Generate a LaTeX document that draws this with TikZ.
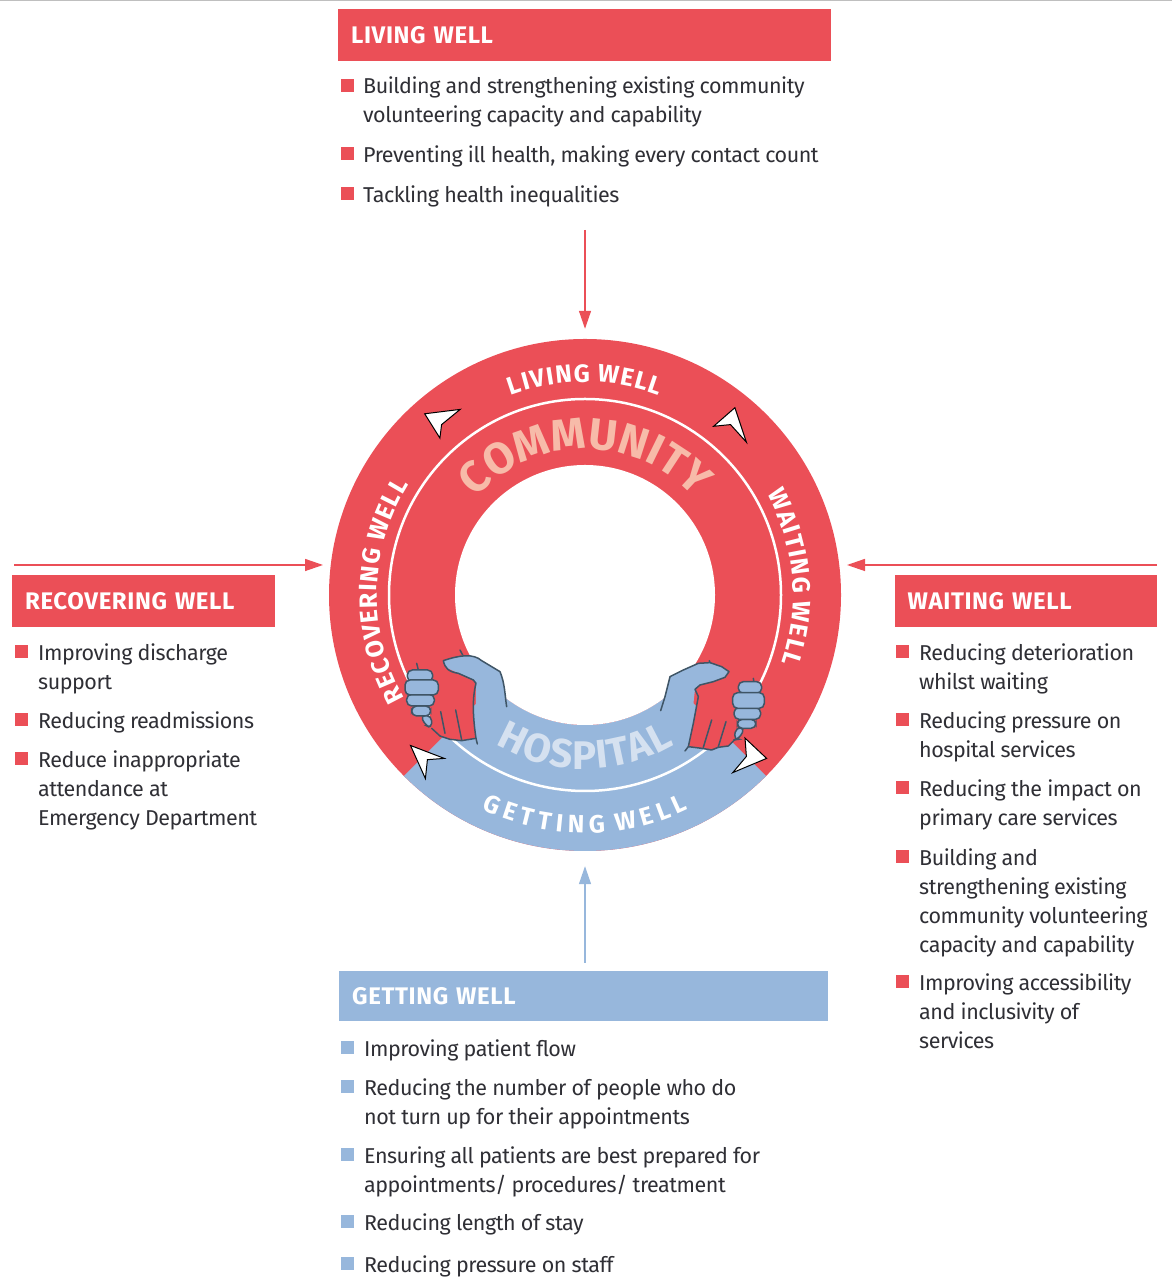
\documentclass[tikz,border=0pt]{standalone}
\usepackage{fontspec}
\usetikzlibrary{arrows.meta,calc,decorations.text}
\setmainfont[LetterSpace=-2.2]{Fira Sans}
\newfontfamily\ringfont{Fira Sans Bold}
\newfontfamily\headfont[LetterSpace=2.5]{Fira Sans Bold}
\newcommand\gapa{\kern1.2pt}
\newcommand\gapb{\kern5.2pt}
\newcommand\gapc{\kern1.2pt}
\definecolor{wellred}{HTML}{EB4F57}
\definecolor{wellblue}{HTML}{97B7DC}
\definecolor{peach}{HTML}{F7BBA9}
\definecolor{paleblue}{HTML}{D5E1F0}
\definecolor{inkline}{HTML}{3F5566}
\definecolor{bodytext}{HTML}{2F2F35}
\tikzset{
  x=1pt,y=1pt,
  headred/.style={fill=wellred,text=white,minimum height=52pt,anchor=north west,inner sep=0pt,font=\headfont\fontsize{24}{24}\selectfont,align=left,text width=#1},
  headblue/.style={headred=#1,fill=wellblue},
  redsq/.style={fill=wellred,minimum size=13pt,inner sep=0pt},
  bluesq/.style={fill=wellblue,minimum size=13pt,inner sep=0pt},
  item/.style={anchor=north west,inner sep=0pt,yshift=-5.5pt,align=left,text=bodytext,font=\fontsize{21.5}{29}\selectfont},
  redarrow/.style={draw=wellred,line width=1.4pt,-{Triangle[length=18pt,width=12pt]}},
  bluearrow/.style={draw=wellblue,line width=1.4pt,-{Triangle[length=18pt,width=12pt]}},
  pointer/.style={fill=white,draw=black,line width=1pt,line join=miter},
  handline/.style={draw=inkline,line width=1.5pt,line cap=round,line join=round},
  fistpart/.style={fill=wellblue,draw=inkline,line width=1.5pt,rounded corners=5pt},
}
\begin{document}
\begin{tikzpicture}
  \useasboundingbox (0,0) rectangle (1172,1282);
  \draw[black!25,line width=1pt] (0,1281.5) -- (1172,1281.5);

  % ring
  \coordinate (c) at (585,687);
  \node[circle,fill=wellred,minimum size=512pt,inner sep=0pt] at (c) (ring) {};
  \fill[wellblue] ($(c)+(-135:256)$) arc[start angle=-135,end angle=-45,radius=256]
    -- ($(c)+(-45:130)$) arc[start angle=-45,end angle=-135,radius=130] -- cycle;
  \fill[white] (c) circle[radius=130];
  \draw[white,line width=2.5pt] (c) circle[radius=196];

  % ring texts
  \path[decorate,decoration={text along path,text align=center,text color=white,
    text={|\ringfont\fontsize{25}{25}\selectfont|{L\gapa}{I\gapa}{V\gapa}{I\gapa}{N\gapa}{G\gapa} {W\gapa}{E\gapa}{L\gapa}{L}}}]
    ($(c)+(150:213)$) arc[start angle=150,end angle=30,radius=213];
  \path[decorate,decoration={text along path,text align=center,text color=white,
    text={|\ringfont\fontsize{25}{25}\selectfont|{W\gapa}{A\gapa}{I\gapa}{T\gapa}{I\gapa}{N\gapa}{G\gapa} {W\gapa}{E\gapa}{L\gapa}{L}}}]
    ($(c)+(65:208)$) arc[start angle=65,end angle=-55,radius=208];
  \path[decorate,decoration={text along path,text align=center,text color=white,
    text={|\ringfont\fontsize{25}{25}\selectfont|{R\gapa}{E\gapa}{C\gapa}{O\gapa}{V\gapa}{E\gapa}{R\gapa}{I\gapa}{N\gapa}{G\gapa} {W\gapa}{E\gapa}{L\gapa}{L}}}]
    ($(c)+(241.4:208)$) arc[start angle=241.4,end angle=116.4,radius=208];
  \path[decorate,decoration={text along path,text align=center,text color=white,
    text={|\ringfont\fontsize{25}{25}\selectfont|{G\gapb}{E\gapb}{T\gapb}{T\gapb}{I\gapb}{N\gapb}{G\gapb} {W\gapb}{E\gapb}{L\gapb}{L}}}]
    ($(c)+(-150:238)$) arc[start angle=-150,end angle=-30,radius=238];
  \path[decorate,decoration={text along path,text align=center,text color=peach,
    text={|\ringfont\fontsize{44}{44}\selectfont|COMMUNITY}}]
    ($(c)+(150:146)$) arc[start angle=150,end angle=30,radius=146];
  \path[decorate,decoration={text along path,text align=center,text color=paleblue,
    text={|\ringfont\fontsize{40}{40}\selectfont|{H\gapc}{O\gapc}{S\gapc}{P\gapc}{I\gapc}{T\gapc}{A\gapc}{L}}}]
    ($(c)+(-150:174)$) arc[start angle=-150,end angle=-30,radius=174];

  % left hand
  \begin{scope}[shift={(390,642)},x=0.3333pt,y=-0.3333pt]
    \fill[wellblue] (160,62) .. controls (210,45) and (250,40) .. (275,62) -- (330,95)
      .. controls (345,130) and (345,170) .. (350,200) -- (258,300) -- (258,130) -- (205,100)
      .. controls (175,95) and (165,85) .. (160,62) -- cycle;
    \fill[wellred] (145,140) -- (172,85) -- (205,100) -- (250,120) -- (258,130)
      .. controls (245,180) and (250,240) .. (258,295)
      -- (215,302) -- (180,298) -- (150,288) -- (125,265) -- (120,225) -- cycle;
    \draw[handline] (350,200) .. controls (345,170) and (345,130) .. (330,95) -- (275,62)
      .. controls (250,40) and (210,45) .. (160,62)
      .. controls (165,85) and (175,95) .. (205,100) -- (250,120) -- (258,130)
      .. controls (245,180) and (250,240) .. (258,295) -- (262,312);
    \draw[handline] (258,295) -- (215,302) -- (180,298) -- (150,288) -- (125,265);
    \draw[handline] (152,215) -- (165,280);
    \draw[handline] (197,210) -- (215,300);
    \draw[handline] (210,30) -- (218,45);
    \draw[handline] (80,70) -- (85,90);
    \draw[fistpart] (92,225) -- (125,228) -- (125,265) -- (105,255) -- cycle;
    \draw[fistpart] (65,198) rectangle (122,228);
    \draw[fistpart] (50,163) rectangle (133,198);
    \draw[fistpart] (52,90) rectangle (128,125);
    \draw[fistpart] (45,120) rectangle (145,165);
  \end{scope}

  % right hand
  \begin{scope}[shift={(650,642)},x=0.3333pt,y=-0.3333pt]
    \fill[wellblue] (32,212) -- (60,110) -- (100,90) -- (145,70) -- (180,68) -- (215,80) -- (237,95)
      -- (225,112) -- (190,125) -- (150,135) -- (135,148) -- (118,300) -- cycle;
    \fill[wellred] (135,148) -- (150,135) -- (190,125) -- (225,112) -- (270,200) -- (255,298)
      -- (235,318) -- (205,322) -- (185,330) -- (155,325) -- (115,320) -- (130,250) -- (145,170) -- cycle;
    \draw[handline] (32,212) -- (45,170) -- (60,110) -- (100,90) -- (145,70) -- (180,68) -- (215,80) -- (237,95)
      -- (225,112) -- (190,125) -- (150,135) -- (135,148) -- (145,170) -- (130,250) -- (115,320) -- (105,333);
    \draw[handline] (115,320) -- (155,325) -- (185,330) -- (205,322) -- (235,318) -- (255,298);
    \draw[handline] (185,240) -- (160,322);
    \draw[handline] (228,245) -- (205,320);
    \draw[handline] (178,62) -- (180,68);
    \draw[handline] (310,115) -- (312,128);
    \draw[fistpart] (258,262) -- (285,265) -- (265,298) -- (252,300) -- cycle;
    \draw[fistpart] (262,238) rectangle (318,265);
    \draw[fistpart] (252,203) rectangle (332,238);
    \draw[fistpart] (265,125) rectangle (335,160);
    \draw[fistpart] (248,158) rectangle (343,205);
  \end{scope}

  % direction pointers
  \draw[pointer] (424.7,868.2) -- (460.2,872.6) -- (441.6,857.4) -- (439.9,843.9) -- cycle;
  \draw[pointer] (734.9,874.3) -- (713.6,855.7) -- (730.5,857.4) -- (746.4,839.8) -- cycle;
  \draw[pointer] (766.6,523.6) -- (745,543.9) -- (746.4,525.6) -- (732.8,509.4) -- cycle;
  \draw[pointer] (410.5,536.5) -- (444.3,523.6) -- (427.4,522.3) -- (425.4,503.4) -- cycle;

  % living well
  \node[headred=467pt,minimum width=493pt,text width=467pt] at (338,1273) (livinghead) {LIVING WELL};
  \node[redsq] at (347.5,1196.5) (ls1) {};
  \node[item] at (363,1211) (lt1) {Building and strengthening existing community\\volunteering capacity and capability};
  \node[redsq] at (347.5,1128.5) (ls2) {};
  \node[item] at (363,1142) (lt2) {Preventing ill health, making every contact count};
  \node[redsq] at (347.5,1088.5) (ls3) {};
  \node[item] at (363,1102) (lt3) {Tackling health inequalities};
  \coordinate (livingstart) at (585,1052);
  \draw[redarrow,shorten >=10pt] (livingstart) -- (ring.north);

  % recovering well
  \node[headred=237pt,minimum width=263pt,text width=237pt] at (12,707) (recoverhead) {RECOVERING WELL};
  \node[redsq] at (21.5,630) (rs1) {};
  \node[item] at (38,644) (rt1) {Improving discharge\\support};
  \node[redsq] at (21.5,562) (rs2) {};
  \node[item] at (38,576) (rt2) {Reducing readmissions};
  \node[redsq] at (21.5,523) (rs3) {};
  \node[item] at (38,537) (rt3) {Reduce inappropriate\\attendance at\\Emergency Department};
  \coordinate (recoverstart) at (14,717);
  \coordinate (recoverend) at (323,717);
  \draw[redarrow] (recoverstart) -- (recoverend);

  % waiting well
  \node[headred=237pt,minimum width=262pt,text width=237pt] at (895,707) (waithead) {WAITING WELL};
  \node[redsq] at (902.5,630) (ws1) {};
  \node[item] at (919,644) (wt1) {Reducing deterioration\\whilst waiting};
  \node[redsq] at (902.5,562) (ws2) {};
  \node[item] at (919,576) (wt2) {Reducing pressure on\\hospital services};
  \node[redsq] at (902.5,494) (ws3) {};
  \node[item] at (919,508) (wt3) {Reducing the impact on\\primary care services};
  \node[redsq] at (902.5,425) (ws4) {};
  \node[item] at (919,439) (wt4) {Building and\\strengthening existing\\community volunteering\\capacity and capability};
  \node[redsq] at (902.5,300) (ws5) {};
  \node[item] at (919,314) (wt5) {Improving accessibility\\and inclusivity of\\services};
  \coordinate (waitstart) at (1157,717);
  \coordinate (waitend) at (847,717);
  \draw[redarrow] (waitstart) -- (waitend);

  % getting well
  \node[headblue=463pt,minimum width=489pt,text width=463pt,minimum height=50pt] at (339,311) (gettinghead) {GETTING WELL};
  \node[bluesq] at (347.5,234) (gs1) {};
  \node[item] at (364,248) (gt1) {Improving patient flow};
  \node[bluesq] at (347.5,195) (gs2) {};
  \node[item] at (364,209) (gt2) {Reducing the number of people who do\\not turn up for their appointments};
  \node[bluesq] at (347.5,127) (gs3) {};
  \node[item] at (364,141) (gt3) {Ensuring all patients are best prepared for\\appointments/ procedures/ treatment};
  \node[bluesq] at (347.5,60) (gs4) {};
  \node[item] at (364,74) (gt4) {Reducing length of stay};
  \node[bluesq] at (347.5,18) (gs5) {};
  \node[item] at (364,32) (gt5) {Reducing pressure on staff};
  \coordinate (gettingstart) at (585,319);
  \draw[bluearrow,shorten >=15pt] (gettingstart) -- (ring.south);
\end{tikzpicture}
\end{document}
